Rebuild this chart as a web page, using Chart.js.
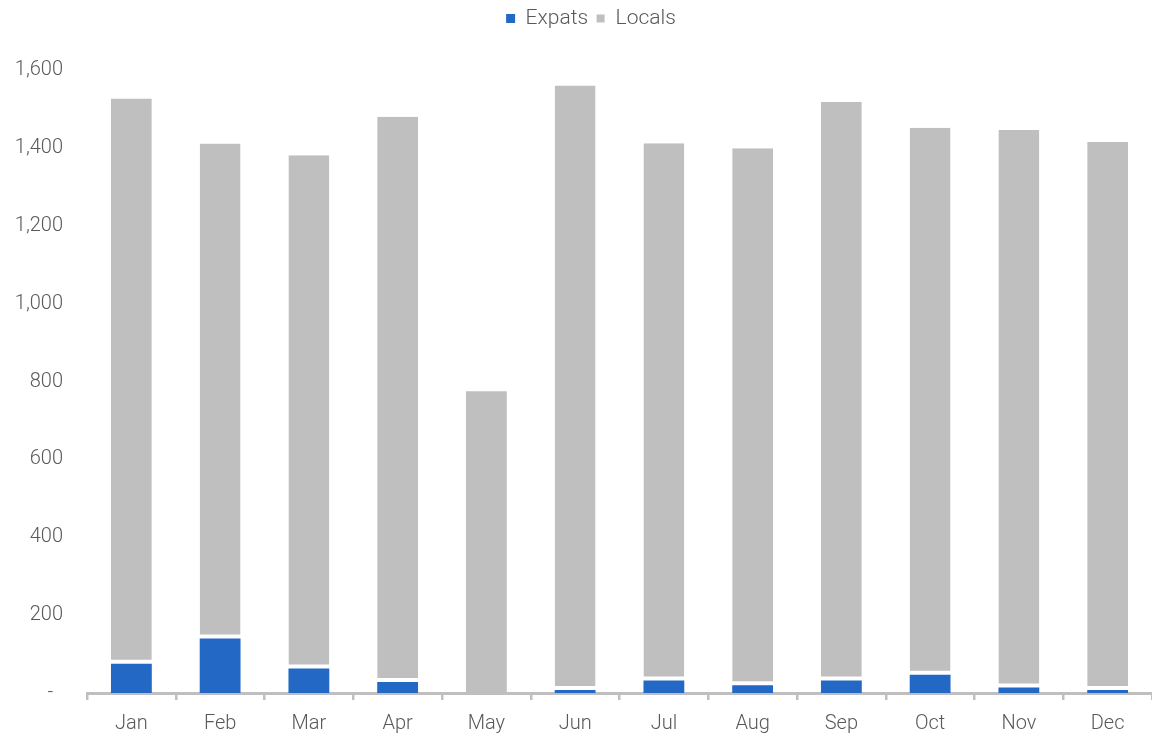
<!DOCTYPE html>
<html>
<head>
<meta charset="utf-8">
<script src="https://cdn.jsdelivr.net/npm/chart.js@4/dist/chart.umd.min.js"></script>
<style>
  html, body { margin: 0; padding: 0; background: #fff; }
  #wrap { width: 1152px; height: 737px; position: relative; }
</style>
</head>
<body>
<div id="wrap"><canvas id="chart"></canvas></div>
<script>
// Dados do gráfico
const months = ["Jan", "Feb", "Mar", "Apr", "May", "Jun", "Jul", "Aug", "Sep", "Oct", "Nov", "Dec"];
const expats = [75, 140, 63, 28, 0, 8, 32, 20, 32, 47, 14, 8];
const locals = [1452, 1271, 1318, 1452, 775, 1552, 1380, 1379, 1486, 1405, 1432, 1407];
const yTicks = [0, 200, 400, 600, 800, 1000, 1200, 1400, 1600];

const textColor = '#595959';
const axisColor = '#bfbfbf';
const fontBase = { family: 'Roboto, "Noto Sans", sans-serif', size: 20, weight: '300' };

// Espaço extra abaixo da legenda e pequeno deslocamento para a direita
const legendTweak = {
    id: 'legendTweak',
    beforeInit(chart) {
        const fit = chart.legend.fit;
        chart.legend.fit = function() {
            fit.call(this);
            this.height += 31;
        };
    },
    afterLayout(chart) {
        chart.legend.left += 30;
    }
};

new Chart(document.getElementById('chart').getContext('2d'), {
    type: 'bar',
    data: {
        labels: months,
        datasets: [
            {
                label: 'Expats',
                data: expats,
                backgroundColor: '#2368c4',
                borderWidth: 0,
                categoryPercentage: 1,
                barPercentage: 0.46
            },
            {
                label: 'Locals',
                data: locals,
                backgroundColor: '#bfbfbf',
                borderColor: '#ffffff',
                borderSkipped: false,
                // espaço branco entre os segmentos
                borderWidth: ctx => expats[ctx.dataIndex] > 0 ? { top: 0, left: 0, right: 0, bottom: 4 } : 0,
                categoryPercentage: 1,
                barPercentage: 0.46
            }
        ]
    },
    options: {
        responsive: true,
        maintainAspectRatio: false,
        animation: false,
        layout: { padding: 0 },
        plugins: {
            legend: {
                position: 'top',
                labels: {
                    boxWidth: 9,
                    boxHeight: 9,
                    padding: 8,
                    color: textColor,
                    font: { ...fontBase, size: 21 }
                }
            },
            tooltip: { enabled: false }
        },
        scales: {
            x: {
                stacked: true,
                offset: true,
                afterFit: axis => { axis.height = 44; },
                grid: {
                    offset: true,
                    drawOnChartArea: false,
                    drawTicks: true,
                    tickLength: 7,
                    color: axisColor,
                    lineWidth: 2.5
                },
                border: { display: true, color: axisColor, width: 3 },
                ticks: { color: textColor, font: fontBase, padding: 12 }
            },
            y: {
                stacked: true,
                min: 0,
                max: 1600,
                afterBuildTicks: axis => { axis.ticks = yTicks.map(v => ({ value: v })); },
                afterFit: axis => { axis.width = 87; },
                grid: { display: false, drawTicks: false },
                border: { display: false },
                ticks: {
                    color: textColor,
                    font: fontBase,
                    padding: 24,
                    callback: v => v === 0 ? '-  ' : v.toLocaleString('en-US')
                }
            }
        }
    },
    plugins: [legendTweak]
});
</script>
</body>
</html>
